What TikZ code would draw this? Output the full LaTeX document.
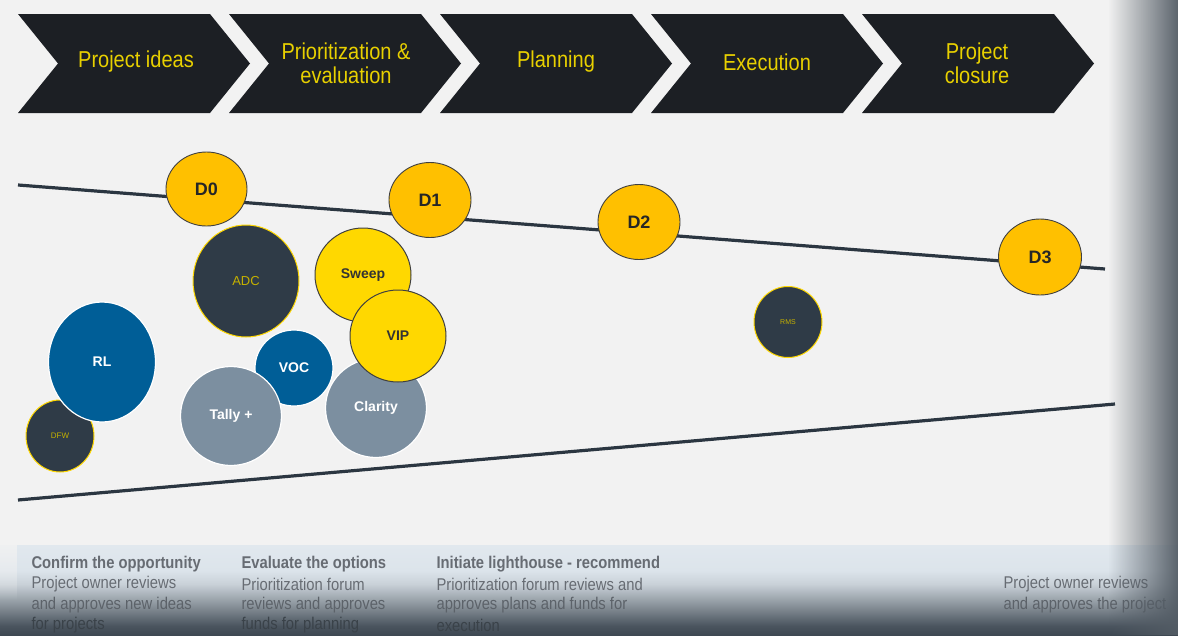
\documentclass[tikz,border=0pt]{standalone}
\usepackage{fontspec}
\setmainfont{Liberation Sans}
\newfontfamily\narrowsans[FakeStretch=0.87]{Liberation Sans}
\usetikzlibrary{shapes.geometric,fadings}
\definecolor{bg}{HTML}{F2F2F2}
\definecolor{chev}{HTML}{1C1F24}
\definecolor{chevtxt}{HTML}{E8D000}
\definecolor{lne}{HTML}{2B3641}
\definecolor{dorange}{HTML}{FFC000}
\definecolor{ylw}{HTML}{FFD800}
\definecolor{slate}{HTML}{2F3B47}
\definecolor{blu}{HTML}{005E97}
\definecolor{gry}{HTML}{7C8FA0}
\definecolor{txta}{HTML}{676C73}
\definecolor{txtb}{HTML}{5C6269}
\definecolor{txtc}{HTML}{3A4249}
\definecolor{edgec}{HTML}{535C65}
\definecolor{dline}{HTML}{404040}
\pgfdeclareverticalshading{bandshade}{100bp}{
  color(0bp)=(rgb,255:red,62;green,72;blue,82);
  color(25bp)=(rgb,255:red,62;green,72;blue,82);
  color(30bp)=(rgb,255:red,74;green,84;blue,94);
  color(41.7bp)=(rgb,255:red,138;green,147;blue,155);
  color(53.3bp)=(rgb,255:red,201;green,209;blue,216);
  color(61bp)=(rgb,255:red,220;green,228;blue,235);
  color(75bp)=(rgb,255:red,225;green,232;blue,238);
  color(100bp)=(rgb,255:red,225;green,232;blue,238)}
\begin{document}
\begin{tikzpicture}[x=1pt,y=-1pt,
  chevshape/.style={fill=chev},
  chevlabel/.style={text=chevtxt,align=center,font=\narrowsans\fontsize{23}{24}\selectfont},
  bub/.style={ellipse,inner sep=0pt,line width=1pt},
  dbub/.style={bub,fill=dorange,draw=dline,line width=0.9pt,font=\fontsize{18}{20}\selectfont\bfseries,text=black!85},
  ybub/.style={bub,fill=ylw,draw=dline,line width=1pt,font=\fontsize{14}{16}\selectfont\bfseries,text=black!80},
  sbub/.style={bub,fill=slate,draw=ylw,line width=1pt,text=chevtxt!85!black},
  bbub/.style={bub,fill=blu,draw=white,line width=1.2pt,font=\fontsize{14}{16}\selectfont\bfseries,text=white},
  gbub/.style={bub,fill=gry,draw=white,line width=1.2pt,font=\fontsize{14}{16}\selectfont\bfseries,text=white},
  btxt/.style={anchor=west,text=txta,font=\narrowsans\fontsize{17}{19}\selectfont},
  bhead/.style={btxt,font=\narrowsans\fontsize{17}{19}\selectfont\bfseries}
]
\useasboundingbox (0,0) rectangle (1178,635);
\fill[bg] (0,0) rectangle (1178,635);
% chevrons
\foreach \x in {18,229,440,651,862}{
  \fill[chevshape] (\x,14) -- (\x+192,14) -- (\x+232,63.5) -- (\x+192,113) -- (\x,113) -- (\x+40,63.5) -- cycle;
}
\node[chevlabel] (c1) at (136,62) {Project ideas};
\node[chevlabel] (c2) at (346,63) {Prioritization \&\\evaluation};
\node[chevlabel] (c3) at (556,62) {Planning};
\node[chevlabel] (c4) at (767,62) {Execution};
\node[chevlabel] (c5) at (977,63) {Project\\closure};
% lines
\coordinate (u1) at (18,185);
\coordinate (u2) at (1105,269);
\coordinate (l1) at (18,500);
\coordinate (l2) at (1115,404);
\draw[lne,line width=3.2pt] (u1) -- (u2);
\draw[lne,line width=3.2pt] (l1) -- (l2);
% decision gates
\node[dbub,minimum width=81pt,minimum height=74pt] (d0) at (206.5,189) {D0};
\node[dbub,minimum width=82pt,minimum height=75pt] (d1) at (430,200) {D1};
\node[dbub,minimum width=82pt,minimum height=75pt] (d2) at (639,222) {D2};
\node[dbub,minimum width=83pt,minimum height=76pt] (d3) at (1040,257) {D3};
% bubbles
\node[sbub,minimum width=106pt,minimum height=112pt,font=\fontsize{13}{15}\selectfont] (adc) at (246,281) {ADC};
\node[ybub,minimum width=96pt,minimum height=94pt] (sweep) at (363,275) {Sweep};
\node[gbub,minimum width=101pt,minimum height=99pt] (clarity) at (376,408) {Clarity};
\node[ybub,minimum width=96pt,minimum height=92pt] (vip) at (398,336) {VIP};
\node[sbub,minimum width=68pt,minimum height=72pt,font=\fontsize{8}{9}\selectfont] (dfw) at (60,436) {DFW};
\node[bbub,minimum width=107pt,minimum height=120pt] (rl) at (102,362) {RL};
\node[bbub,minimum width=78pt,minimum height=76pt] (voc) at (294,368) {VOC};
\node[gbub,minimum width=101pt,minimum height=99pt] (tally) at (231,416) {Tally +};
\node[sbub,minimum width=68pt,minimum height=71pt,font=\fontsize{7}{8}\selectfont] (rms) at (788,322) {RMS};
% bottom band
\shade[shading=bandshade] (0,545) rectangle (1178,635);
\fill[bg,path fading=south] (0,535) rectangle (17,600);
\node[bhead] (t11) at (28,564) {Confirm the opportunity};
\node[btxt] (t12) at (28,584.5) {Project owner reviews};
\node[btxt,text=txtb] (t13) at (28,605) {and approves new ideas};
\node[btxt,text=txtc] (t14) at (28,625.5) {for projects};
\node[bhead] (t21) at (238,564) {Evaluate the options};
\node[btxt] (t22) at (238,584.5) {Prioritization forum};
\node[btxt,text=txtb] (t23) at (238,605) {reviews and approves};
\node[btxt,text=txtc] (t24) at (238,625.5) {funds for planning};
\node[bhead] (t31) at (433,564) {Initiate lighthouse - recommend};
\node[btxt] (t32) at (433,584.5) {Prioritization forum reviews and};
\node[btxt,text=txtb] (t33) at (433,605) {approves plans and funds for};
\node[btxt,text=txtc] (t34) at (433,625.5) {execution};
\node[btxt] (t41) at (1000,584.5) {Project owner reviews};
\node[btxt,text=txtb] (t42) at (1000,605) {and approves the project};
% right shadow
\fill[edgec,path fading=west] (1108,0) rectangle (1182,635);
\end{tikzpicture}
\end{document}
